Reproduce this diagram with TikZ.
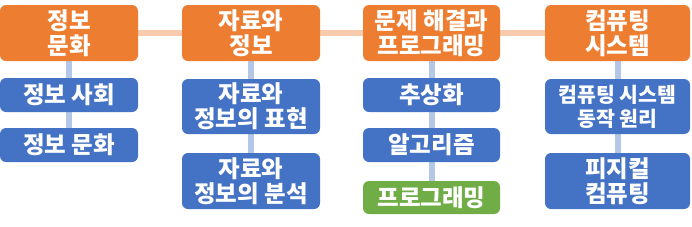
\documentclass[tikz,border=0pt]{standalone}
\usepackage{fontspec}
\setmainfont{Noto Sans CJK KR}[BoldFont={Noto Sans CJK KR Black}]
\usetikzlibrary{backgrounds}
\definecolor{cOrange}{HTML}{ED7D31}
\definecolor{cBlue}{HTML}{4472C4}
\definecolor{cGreen}{HTML}{70AD47}
\definecolor{cPeach}{HTML}{F8CBAD}
\definecolor{cLight}{HTML}{B4C7E7}
\tikzset{
  box/.style={rounded corners=6pt, text=white, align=center, inner sep=0pt,
    font=\bfseries\fontsize{23.5}{25}\selectfont},
  topbox/.style={box, fill=cOrange},
  subbox/.style={box, fill=cBlue},
  greenbox/.style={box, fill=cGreen},
  smalltext/.style={font=\bfseries\fontsize{20.5}{24}\selectfont},
  hlink/.style={draw=cPeach, line width=6pt},
  vlink/.style={draw=cLight, line width=6pt},
}
\begin{document}
\begin{tikzpicture}[x=1pt,y=-1pt]
\useasboundingbox (0,0) rectangle (692,226);
% column 1
\node[topbox, minimum width=138pt, minimum height=56pt] (o1) at (69,33) {정보\\문화};
\node[subbox, minimum width=138pt, minimum height=34pt] (b11) at (69,95) {정보 사회};
\node[subbox, minimum width=138pt, minimum height=34pt] (b12) at (69,145) {정보 문화};
% column 2
\node[topbox, minimum width=138pt, minimum height=56pt] (o2) at (251,33) {자료와\\정보};
\node[subbox, minimum width=138pt, minimum height=55pt] (b21) at (251,106.5) {자료와\\정보의 표현};
\node[subbox, minimum width=138pt, minimum height=56pt] (b22) at (251,181) {자료와\\정보의 분석};
% column 3
\node[topbox, minimum width=137pt, minimum height=56pt] (o3) at (431.5,33) {문제 해결과\\프로그래밍};
\node[subbox, minimum width=137pt, minimum height=34pt] (b31) at (431.5,95) {추상화};
\node[subbox, minimum width=137pt, minimum height=34pt] (b32) at (431.5,145) {알고리즘};
\node[greenbox, minimum width=137pt, minimum height=33pt] (b33) at (431.5,197.5) {프로그래밍};
% column 4
\node[topbox, minimum width=145pt, minimum height=56pt] (o4) at (617.5,33) {컴퓨팅\\시스템};
\node[subbox, smalltext, minimum width=145pt, minimum height=55pt] (b41) at (617.5,106.5) {컴퓨팅 시스템\\동작 원리};
\node[subbox, minimum width=145pt, minimum height=56pt] (b42) at (617.5,181) {피지컬\\컴퓨팅};
\begin{scope}[on background layer]
\draw[hlink] (o1.east) -- (o2.west);
\draw[hlink] (o2.east) -- (o3.west);
\draw[hlink] (o3.east) -- (o4.west);
\draw[vlink] (o1.south) -- (b11.north);
\draw[vlink] (b11.south) -- (b12.north);
\draw[vlink] (o2.south) -- (b21.north);
\draw[vlink] (b21.south) -- (b22.north);
\draw[vlink] (o3.south) -- (b31.north);
\draw[vlink] (b31.south) -- (b32.north);
\draw[vlink] (b32.south) -- (b33.north);
\draw[vlink] (o4.south) -- (b41.north);
\draw[vlink] (b41.south) -- (b42.north);
\end{scope}
\end{tikzpicture}
\end{document}
